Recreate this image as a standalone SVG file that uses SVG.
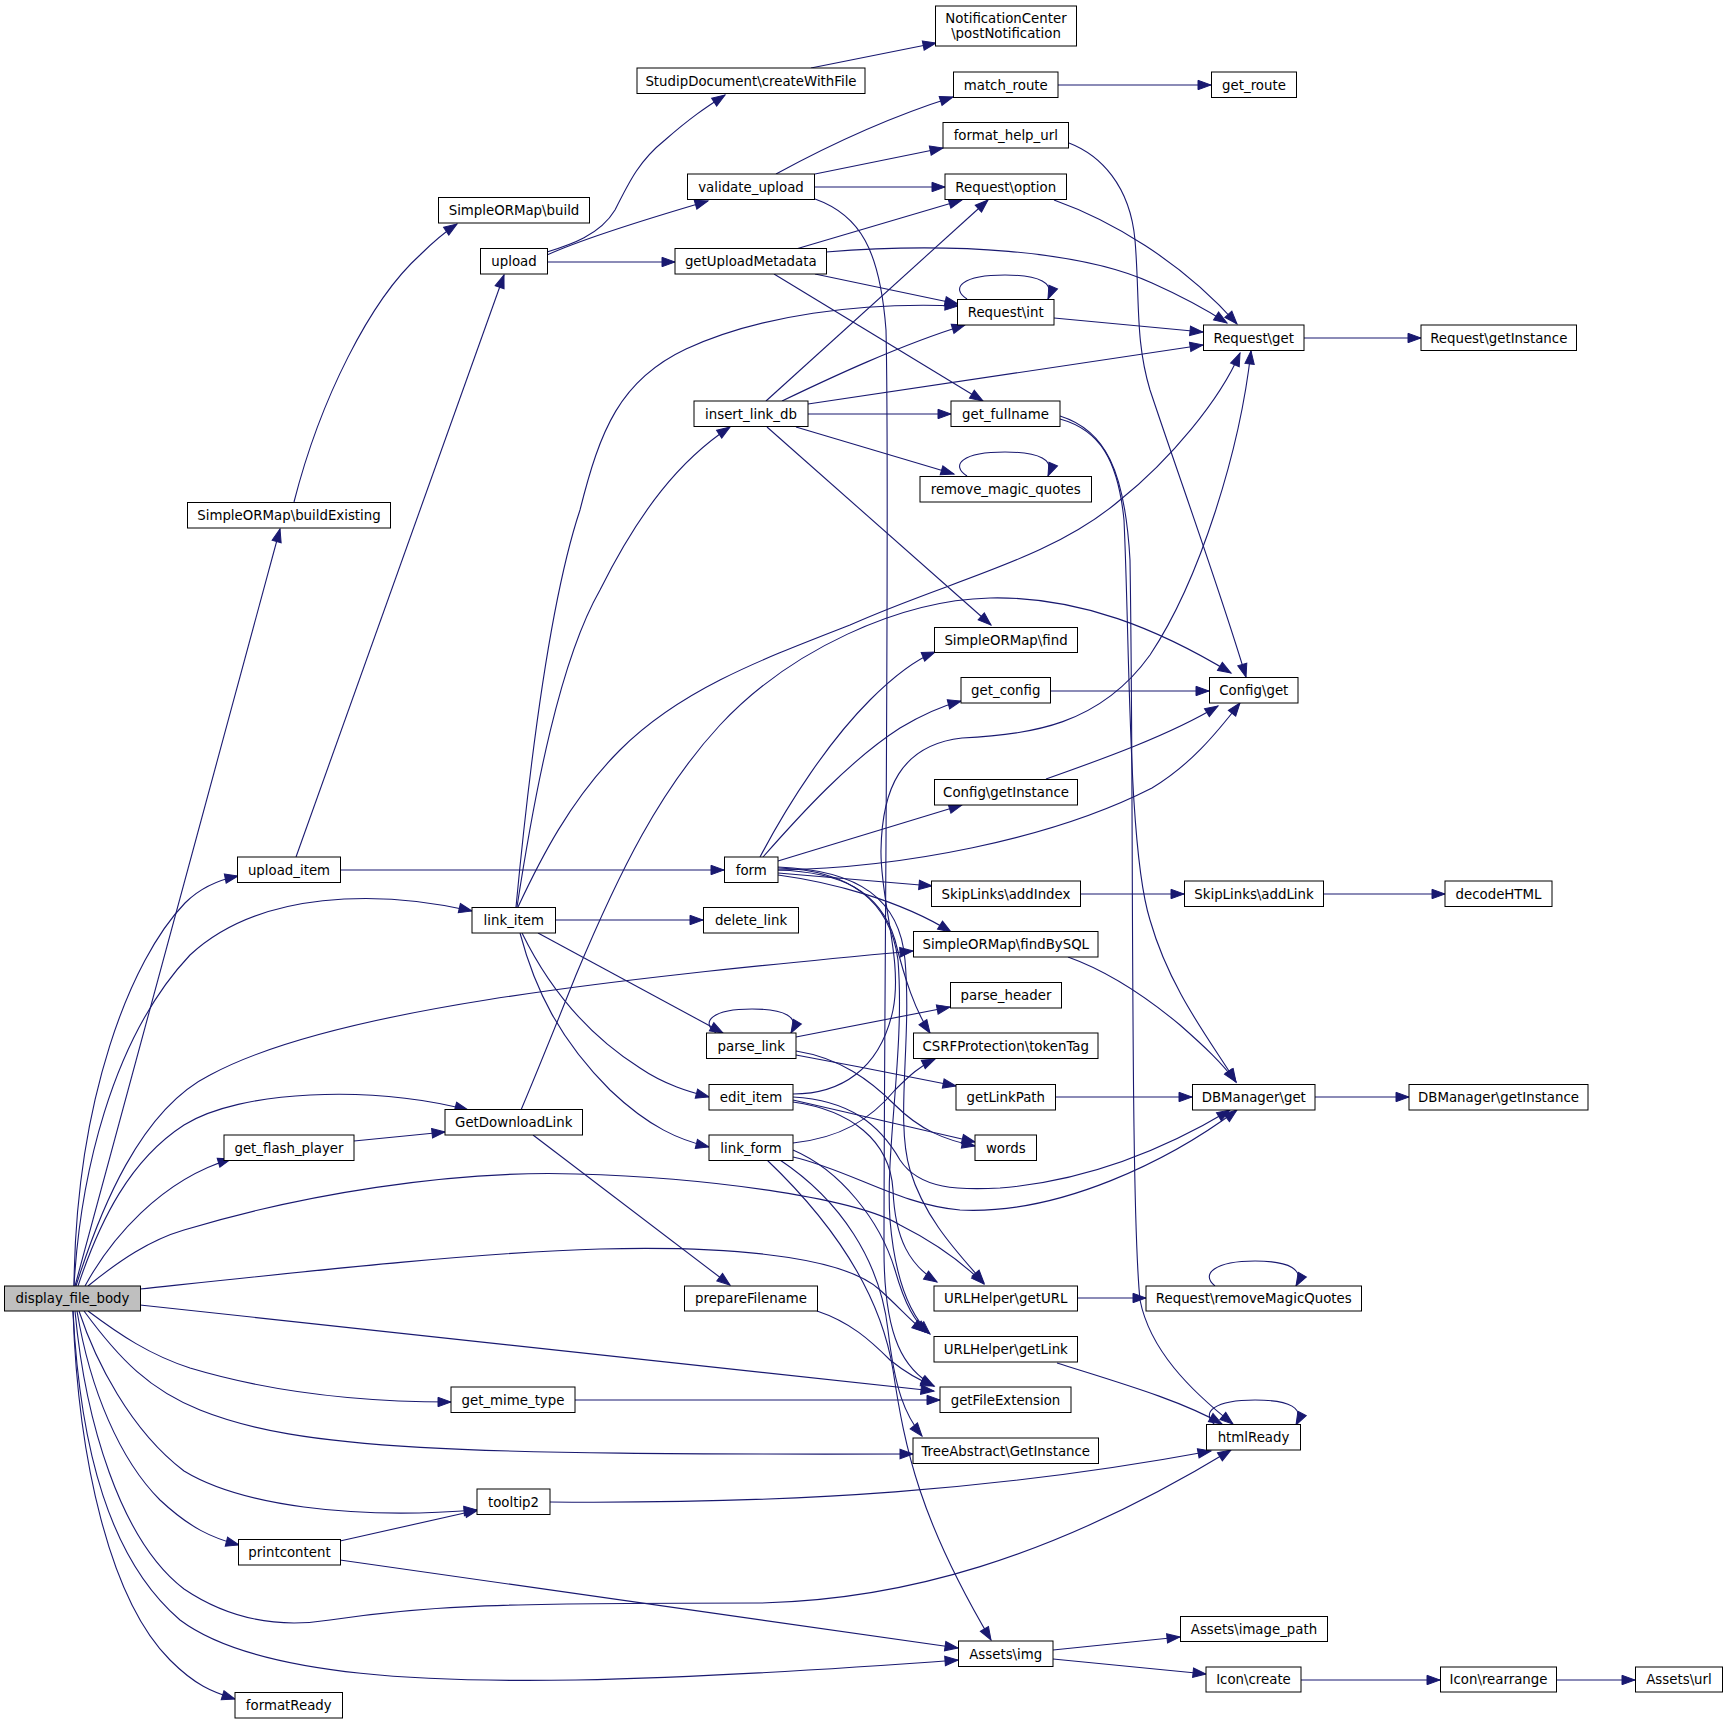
<svg xmlns="http://www.w3.org/2000/svg" width="1728" height="1722" viewBox="0 0 1728 1722">
<style>
.n rect{fill:#fff;stroke:#000;stroke-width:1}
.n text{font-family:"DejaVu Sans","Liberation Sans",sans-serif;font-size:13.33px;text-anchor:middle;fill:#000}
#edges path{fill:none;stroke:#191970;stroke-width:1.1;marker-end:url(#a)}
</style>
<defs>
<marker id="a" markerWidth="14" markerHeight="10" refX="13" refY="4.7" orient="auto" markerUnits="userSpaceOnUse" overflow="visible"><path d="M0,0 L13,4.7 L0,9.4 z" fill="#191970" stroke="#191970" stroke-width="1"/></marker>
</defs>
<rect width="1728" height="1722" fill="#fff"/>
<g id="edges">
<path d="M75,1286 L280,529"/>
<path d="M74,1286 C76,1100 130,960 185,903 C200,888 218,880 238,876"/>
<path d="M74,1286 C80,1180 110,1040 190,955 C260,890 380,890 472,911"/>
<path d="M76,1286 C100,1210 140,1110 210,1075 C330,1010 600,980 913,951"/>
<path d="M78,1286 C100,1220 130,1160 184,1125 C240,1090 370,1085 468,1110"/>
<path d="M85,1286 C110,1240 160,1180 231,1159"/>
<path d="M88,1286 C120,1260 150,1240 184,1230 C300,1195 450,1170 576,1174 C720,1178 860,1200 900,1225 C940,1245 965,1265 984,1284"/>
<path d="M140,1289 C300,1272 480,1252 600,1249 C760,1245 850,1262 880,1290 C900,1308 912,1322 925,1332"/>
<path d="M140,1305 L934,1391"/>
<path d="M88,1311 C120,1335 150,1355 190,1368 C270,1392 360,1402 451,1402"/>
<path d="M84,1311 C120,1360 150,1390 200,1410 C300,1450 450,1455 913,1454"/>
<path d="M79,1311 C95,1360 130,1430 184,1471 C240,1505 350,1520 477,1510"/>
<path d="M77,1311 C90,1390 120,1460 160,1500 C190,1528 212,1538 239,1545"/>
<path d="M75,1311 C85,1420 120,1540 184,1589 C230,1620 280,1628 330,1620 C430,1605 500,1603 760,1603 C900,1600 1050,1560 1231,1450"/>
<path d="M73,1311 C80,1450 110,1560 180,1620 C260,1680 450,1682 576,1680 C720,1677 850,1668 958,1660"/>
<path d="M73,1311 C78,1460 110,1600 170,1660 C195,1685 212,1692 235,1699"/>
<path d="M294,502 C320,400 370,300 420,255 C435,240 445,232 457,224"/>
<path d="M296,857 L504,275"/>
<path d="M341,870 L724,870"/>
<path d="M547,252 C570,245 600,235 615,210 C630,180 640,160 665,140 C690,118 705,108 725,95"/>
<path d="M547,255 C580,240 650,218 708,201"/>
<path d="M547,262 L675,262"/>
<path d="M811,68 L936,43"/>
<path d="M776,174 C820,150 880,120 953,97"/>
<path d="M815,174 L943,148"/>
<path d="M814,187 L945,187"/>
<path d="M815,199 C860,215 880,250 886,330 C890,500 884,1000 884,1250 C884,1340 905,1370 934,1386"/>
<path d="M796,249 L962,200"/>
<path d="M826,252 C950,242 1080,250 1152,283 C1190,300 1210,312 1227,323"/>
<path d="M1054,200 C1110,220 1180,260 1237,324"/>
<path d="M815,274 L958,304"/>
<path d="M774,274 L983,401"/>
<path d="M967,299 C950,288 962,275 1005,275 C1040,275 1055,283 1048,299"/>
<path d="M1054,318 L1203,332"/>
<path d="M766,401 L988,200"/>
<path d="M782,401 C830,378 900,345 965,325"/>
<path d="M808,404 L1203,345"/>
<path d="M808,414 L951,414"/>
<path d="M796,427 L954,474"/>
<path d="M767,427 L991,625"/>
<path d="M967,476 C950,465 962,452 1005,452 C1040,452 1055,460 1048,476"/>
<path d="M1060,419 C1100,430 1118,460 1124,520 C1130,650 1128,850 1150,920 C1170,990 1210,1040 1236,1082"/>
<path d="M1060,416 C1105,430 1125,470 1130,560 C1134,800 1130,1200 1140,1300 C1150,1350 1190,1390 1233,1424"/>
<path d="M1058,85 L1211,85"/>
<path d="M1069,143 C1100,155 1130,185 1135,240 C1140,300 1135,340 1150,390 C1180,480 1220,590 1246,677"/>
<path d="M1304,338 L1421,338"/>
<path d="M516,907 C530,760 550,600 580,510 C600,430 620,380 686,349 C760,315 860,302 958,306"/>
<path d="M517,907 C535,790 560,660 600,590 C640,510 680,460 730,427"/>
<path d="M518,907 C540,860 570,800 620,750 C680,690 760,660 850,625 C950,580 1050,560 1120,500 C1170,460 1220,400 1240,353"/>
<path d="M555,920 L703,920"/>
<path d="M538,933 L723,1033"/>
<path d="M522,933 C545,980 580,1030 640,1068 C665,1085 690,1092 709,1097"/>
<path d="M520,933 C535,990 560,1040 610,1090 C650,1128 680,1140 709,1147"/>
<path d="M521,1110 C540,1065 560,1015 576,975 C620,870 660,790 720,725 C790,650 900,600 990,598 C1080,596 1160,630 1231,673"/>
<path d="M533,1135 L730,1285"/>
<path d="M354,1141 L445,1132"/>
<path d="M575,1400 L940,1400"/>
<path d="M550,1502 C800,1504 1000,1490 1211,1451"/>
<path d="M340,1541 L478,1510"/>
<path d="M340,1560 L958,1648"/>
<path d="M817,1311 C850,1322 870,1340 890,1360 C905,1372 918,1380 934,1386"/>
<path d="M1053,1650 L1180,1637"/>
<path d="M1053,1659 L1206,1674"/>
<path d="M1301,1680 L1440,1680"/>
<path d="M1557,1680 L1635,1680"/>
<path d="M1077,1298 L1146,1298"/>
<path d="M1215,1286 C1200,1274 1215,1261 1255,1261 C1290,1261 1305,1270 1296,1286"/>
<path d="M1215,1425 C1200,1412 1215,1400 1255,1400 C1290,1400 1305,1408 1296,1425"/>
<path d="M716,1033 C700,1022 712,1009 752,1009 C785,1009 800,1017 791,1033"/>
<path d="M796,1037 L950,1007"/>
<path d="M796,1055 C850,1065 900,1075 956,1086"/>
<path d="M796,1051 C840,1058 870,1080 895,1105 C920,1130 945,1140 975,1146"/>
<path d="M793,1100 L975,1142"/>
<path d="M793,1094 C840,1094 880,1070 893,1010 C903,960 880,900 881,850 C882,790 900,745 962,738 C1030,735 1100,725 1150,655 C1200,580 1240,450 1251,351"/>
<path d="M793,1097 C850,1100 880,1125 900,1160 C920,1190 960,1190 1000,1188 C1100,1180 1180,1140 1230,1110"/>
<path d="M793,1157 C850,1170 900,1205 960,1210 C1060,1215 1170,1160 1237,1110"/>
<path d="M793,1143 C840,1138 870,1120 895,1090 C910,1075 920,1066 935,1059"/>
<path d="M760,857 C790,800 830,740 870,700 C895,675 915,660 935,652"/>
<path d="M763,857 C800,815 850,760 900,728 C925,713 942,706 961,701"/>
<path d="M778,861 L962,805"/>
<path d="M778,870 C900,868 1050,840 1152,788 C1190,765 1215,735 1240,703"/>
<path d="M778,873 L932,886"/>
<path d="M778,875 C830,882 900,900 951,932"/>
<path d="M778,870 C840,872 880,890 895,940 C905,980 915,1010 930,1033"/>
<path d="M778,867 C860,870 900,900 905,960 C912,1040 895,1120 910,1170 C925,1220 960,1255 984,1283"/>
<path d="M778,868 C850,870 890,900 898,960 C905,1050 885,1150 890,1220 C895,1280 910,1315 930,1334"/>
<path d="M1046,779 C1100,760 1170,735 1218,706"/>
<path d="M1051,691 L1209,691"/>
<path d="M1080,894 L1184,894"/>
<path d="M1323,894 L1445,894"/>
<path d="M1068,957 C1110,972 1150,1000 1180,1025 C1205,1047 1222,1063 1236,1082"/>
<path d="M1055,1097 L1192,1097"/>
<path d="M1315,1097 L1409,1097"/>
<path d="M1057,1363 C1120,1383 1180,1400 1222,1424"/>
<path d="M793,1150 C840,1170 880,1220 895,1270 C905,1305 915,1322 928,1333"/>
<path d="M780,1160 C840,1200 880,1260 888,1330 C895,1390 905,1415 922,1436"/>
<path d="M767,1160 C830,1220 880,1290 893,1370 C905,1450 920,1520 991,1640"/>
<path d="M793,1102 C850,1110 890,1140 893,1190 C895,1240 910,1265 937,1282"/>
</g>
<g id="n1" class="n"><rect x="4.5" y="1286" width="136" height="25" style="fill:#bfbfbf"/><text x="72.5" y="1303">display_file_body</text></g>
<g id="n2" class="n"><rect x="187.5" y="502.5" width="203" height="25.5"/><text x="289" y="520">SimpleORMap\buildExisting</text></g>
<g id="n3" class="n"><rect x="438.5" y="197.5" width="151" height="25.5"/><text x="514" y="215">SimpleORMap\build</text></g>
<g id="n4" class="n"><rect x="480.5" y="248.5" width="67" height="25.5"/><text x="514" y="266">upload</text></g>
<g id="n5" class="n"><rect x="237.5" y="857" width="103" height="25.5"/><text x="289" y="874.5">upload_item</text></g>
<g id="n6" class="n"><rect x="472" y="907.5" width="83.5" height="25.5"/><text x="513.75" y="925">link_item</text></g>
<g id="n7" class="n"><rect x="445" y="1109.5" width="137.5" height="25.5"/><text x="513.75" y="1127">GetDownloadLink</text></g>
<g id="n8" class="n"><rect x="224" y="1135" width="130" height="25.5"/><text x="289" y="1152.5">get_flash_player</text></g>
<g id="n9" class="n"><rect x="451" y="1387" width="124" height="25.5"/><text x="513" y="1404.5">get_mime_type</text></g>
<g id="n10" class="n"><rect x="477" y="1489" width="73" height="25.5"/><text x="513.5" y="1506.5">tooltip2</text></g>
<g id="n11" class="n"><rect x="238.5" y="1539.5" width="102" height="25.5"/><text x="289.5" y="1557">printcontent</text></g>
<g id="n12" class="n"><rect x="235" y="1692.5" width="107.5" height="25.5"/><text x="288.75" y="1710">formatReady</text></g>
<g id="n13" class="n"><rect x="637" y="68" width="228" height="25.5"/><text x="751" y="85.5">StudipDocument\createWithFile</text></g>
<g id="n14" class="n"><rect x="935.5" y="6" width="141" height="40"/><text x="1006" y="22.5">NotificationCenter</text><text x="1006" y="37.5">\postNotification</text></g>
<g id="n15" class="n"><rect x="687.5" y="174" width="127" height="25.5"/><text x="751" y="191.5">validate_upload</text></g>
<g id="n16" class="n"><rect x="675" y="248.5" width="151.5" height="25.5"/><text x="750.75" y="266">getUploadMetadata</text></g>
<g id="n17" class="n"><rect x="694" y="401" width="114" height="25.5"/><text x="751" y="418.5">insert_link_db</text></g>
<g id="n18" class="n"><rect x="724.5" y="857" width="53.5" height="25.5"/><text x="751.25" y="874.5">form</text></g>
<g id="n19" class="n"><rect x="703.5" y="907.5" width="95" height="25.5"/><text x="751" y="925">delete_link</text></g>
<g id="n20" class="n"><rect x="706.5" y="1033" width="89.5" height="25.5"/><text x="751.25" y="1050.5">parse_link</text></g>
<g id="n21" class="n"><rect x="709" y="1084.5" width="84" height="25.5"/><text x="751" y="1102">edit_item</text></g>
<g id="n22" class="n"><rect x="709" y="1135" width="84" height="25.5"/><text x="751" y="1152.5">link_form</text></g>
<g id="n23" class="n"><rect x="684.5" y="1286" width="133" height="25"/><text x="751" y="1303">prepareFilename</text></g>
<g id="n24" class="n"><rect x="953.5" y="72" width="104.5" height="25.5"/><text x="1005.75" y="89.5">match_route</text></g>
<g id="n25" class="n"><rect x="943" y="122.5" width="125.5" height="25.5"/><text x="1005.75" y="140">format_help_url</text></g>
<g id="n26" class="n"><rect x="945" y="174" width="121.5" height="25.5"/><text x="1005.75" y="191.5">Request\option</text></g>
<g id="n27" class="n"><rect x="957.5" y="299.5" width="96.5" height="25.5"/><text x="1005.75" y="317">Request\int</text></g>
<g id="n28" class="n"><rect x="951" y="401" width="109" height="25.5"/><text x="1005.5" y="418.5">get_fullname</text></g>
<g id="n29" class="n"><rect x="920" y="476.5" width="171.5" height="25.5"/><text x="1005.75" y="494">remove_magic_quotes</text></g>
<g id="n30" class="n"><rect x="934.5" y="627.5" width="143" height="25"/><text x="1006" y="644.5">SimpleORMap\find</text></g>
<g id="n31" class="n"><rect x="961" y="677.5" width="89.5" height="25.5"/><text x="1005.75" y="695">get_config</text></g>
<g id="n32" class="n"><rect x="934.5" y="779.5" width="143" height="25.5"/><text x="1006" y="797">Config\getInstance</text></g>
<g id="n33" class="n"><rect x="931.5" y="881" width="149" height="25.5"/><text x="1006" y="898.5">SkipLinks\addIndex</text></g>
<g id="n34" class="n"><rect x="913.5" y="931.5" width="184.5" height="25.5"/><text x="1005.75" y="949">SimpleORMap\findBySQL</text></g>
<g id="n35" class="n"><rect x="950.5" y="982.5" width="111" height="25.5"/><text x="1006" y="1000">parse_header</text></g>
<g id="n36" class="n"><rect x="913.5" y="1033" width="184.5" height="25.5"/><text x="1005.75" y="1050.5">CSRFProtection\tokenTag</text></g>
<g id="n37" class="n"><rect x="956" y="1084.5" width="99.5" height="25.5"/><text x="1005.75" y="1102">getLinkPath</text></g>
<g id="n38" class="n"><rect x="975" y="1135" width="61.5" height="25.5"/><text x="1005.75" y="1152.5">words</text></g>
<g id="n39" class="n"><rect x="934" y="1286" width="143.5" height="25"/><text x="1005.75" y="1303">URLHelper\getURL</text></g>
<g id="n40" class="n"><rect x="934" y="1336.5" width="143.5" height="25.5"/><text x="1005.75" y="1354">URLHelper\getLink</text></g>
<g id="n41" class="n"><rect x="940" y="1387" width="131" height="25.5"/><text x="1005.5" y="1404.5">getFileExtension</text></g>
<g id="n42" class="n"><rect x="913" y="1438" width="185.5" height="25.5"/><text x="1005.75" y="1455.5">TreeAbstract\GetInstance</text></g>
<g id="n43" class="n"><rect x="958.5" y="1641" width="94.5" height="25.5"/><text x="1005.75" y="1658.5">Assets\img</text></g>
<g id="n44" class="n"><rect x="1211.5" y="72" width="85" height="25.5"/><text x="1254" y="89.5">get_route</text></g>
<g id="n45" class="n"><rect x="1203.5" y="325" width="100.5" height="25.5"/><text x="1253.75" y="342.5">Request\get</text></g>
<g id="n46" class="n"><rect x="1421" y="325" width="155.5" height="25.5"/><text x="1498.75" y="342.5">Request\getInstance</text></g>
<g id="n47" class="n"><rect x="1209.5" y="677.5" width="88.5" height="25.5"/><text x="1253.75" y="695">Config\get</text></g>
<g id="n48" class="n"><rect x="1184.5" y="881" width="139" height="25.5"/><text x="1254" y="898.5">SkipLinks\addLink</text></g>
<g id="n49" class="n"><rect x="1445" y="881" width="107" height="25.5"/><text x="1498.5" y="898.5">decodeHTML</text></g>
<g id="n50" class="n"><rect x="1192.5" y="1084.5" width="122.5" height="25.5"/><text x="1253.75" y="1102">DBManager\get</text></g>
<g id="n51" class="n"><rect x="1409" y="1084.5" width="179" height="25.5"/><text x="1498.5" y="1102">DBManager\getInstance</text></g>
<g id="n52" class="n"><rect x="1146" y="1286" width="215.5" height="25"/><text x="1253.75" y="1303">Request\removeMagicQuotes</text></g>
<g id="n53" class="n"><rect x="1206.5" y="1424.5" width="94" height="25.5"/><text x="1253.5" y="1442">htmlReady</text></g>
<g id="n54" class="n"><rect x="1180.5" y="1616.5" width="147" height="25"/><text x="1254" y="1633.5">Assets\image_path</text></g>
<g id="n55" class="n"><rect x="1206" y="1667" width="95" height="25"/><text x="1253.5" y="1684">Icon\create</text></g>
<g id="n56" class="n"><rect x="1440.5" y="1667" width="116" height="25"/><text x="1498.5" y="1684">Icon\rearrange</text></g>
<g id="n57" class="n"><rect x="1635.5" y="1667" width="87" height="25"/><text x="1679" y="1684">Assets\url</text></g>
</svg>
